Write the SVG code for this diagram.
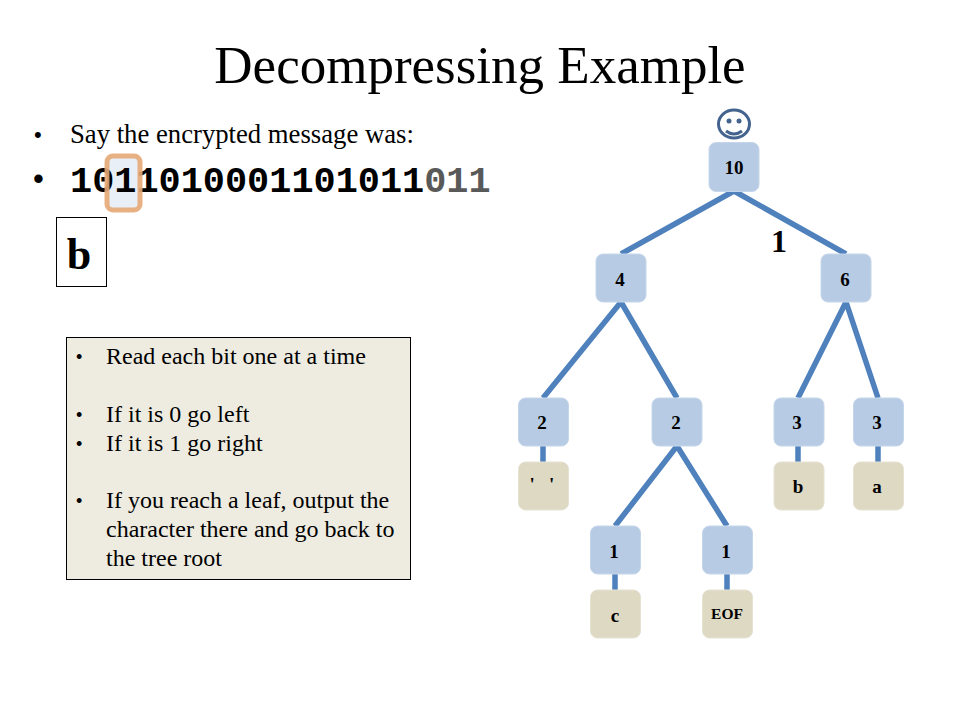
<svg xmlns="http://www.w3.org/2000/svg" width="960" height="720" viewBox="0 0 960 720">
<style>
text{font-family:"Liberation Serif","Times New Roman",serif;fill:#000}
.n{fill:#b7cce4;stroke:#c6d6ea;stroke-width:1}
.l{fill:#ddd9c3;stroke:#e6e3d3;stroke-width:1}
.t{font-size:19px;font-weight:bold;text-anchor:middle}
.c{stroke:#4f81bd;stroke-width:5.5;fill:none}
.b{font-size:24px}
.d{font-family:"Liberation Sans",Arial,sans-serif}
.m{font-family:"Liberation Mono","Courier New",monospace;font-size:36.900px;font-weight:bold}
</style>
<rect width="960" height="720" fill="#fff"/>
<text id="title" x="480" y="83" font-size="53" text-anchor="middle">Decompressing Example</text>
<g id="bullets">
<text x="34" y="142" class="d" font-size="22">•</text>
<text x="70" y="143" font-size="26.700">Say the encrypted message was:</text>
<text x="33" y="189" class="d" font-size="31">•</text>
</g>
<rect x="107" y="156" width="33" height="54" rx="6" fill="#e9eff7"/>
<g id="message">
<text x="70" y="192" class="m">1011010001101011<tspan fill="#595959">011</tspan></text>
</g>
<g id="highlight"><rect x="107" y="156" width="33" height="54" rx="6" fill="none" stroke="#e6a875" stroke-opacity=".9" stroke-width="5"/></g>
<g id="output"><rect x="56.500" y="217.500" width="50" height="69" fill="#fff" stroke="#000" stroke-width="1"/>
<text x="79" y="269" font-size="44" font-weight="bold" text-anchor="middle">b</text></g>
<g id="notes">
<rect x="66.500" y="337.500" width="344" height="242" fill="#eeece1" stroke="#000" stroke-width="1"/>
<text x="76" y="363" class="d" font-size="18">•</text><text x="106" y="364" class="b">Read each bit one at a time</text>
<text x="76" y="421" class="d" font-size="18">•</text><text x="106" y="422" class="b">If it is 0 go left</text>
<text x="76" y="450" class="d" font-size="18">•</text><text x="106" y="451" class="b">If it is 1 go right</text>
<text x="76" y="507" class="d" font-size="18">•</text><text x="106" y="508" class="b">If you reach a leaf, output the</text>
<text x="106" y="537" class="b">character there and go back to</text>
<text x="106" y="566" class="b">the tree root</text>
</g>
<g id="smiley" fill="none" stroke="#44648f" stroke-width="3">
<ellipse cx="734" cy="124" rx="15.500" ry="14"/>
<path d="M726 131Q734 137 742 131"/>
<circle cx="729" cy="121" r="2.500" fill="#44648f" stroke="none"/>
<circle cx="739" cy="121" r="2.500" fill="#44648f" stroke="none"/>
</g>
<text id="edge-label" x="779" y="252" font-size="32" font-weight="bold" text-anchor="middle">1</text>
<g id="connectors" class="c">
<path d="M734 191L621 254M734 191L846 254"/>
<path d="M621 302L543 398M621 302L677 398"/>
<path d="M846 302L798 398M846 302L878 398"/>
<path d="M543 446V462M798 446V462M878 446V462"/>
<path d="M677 446L615 526M677 446L727 526"/>
<path d="M615 574V590M727 574V590"/>
</g>
<g id="n10"><rect class="n" x="709" y="142.500" width="50" height="49" rx="7"/><text class="t" x="734" y="174">10</text></g>
<g id="n4"><rect class="n" x="596" y="254" width="50" height="48" rx="7"/><text class="t" x="620" y="286">4</text></g>
<g id="n6"><rect class="n" x="821" y="254" width="50" height="48" rx="7"/><text class="t" x="845" y="286">6</text></g>
<g id="n2a"><rect class="n" x="518.500" y="398" width="50" height="48" rx="7"/><text class="t" x="542" y="429">2</text></g>
<g id="n2b"><rect class="n" x="652" y="398" width="50" height="48" rx="7"/><text class="t" x="676" y="429">2</text></g>
<g id="n3a"><rect class="n" x="774" y="398" width="50" height="48" rx="7"/><text class="t" x="797" y="429">3</text></g>
<g id="n3b"><rect class="n" x="853.500" y="398" width="50" height="48" rx="7"/><text class="t" x="877" y="429">3</text></g>
<g id="leaf-space"><rect class="l" x="518.500" y="462" width="50" height="48" rx="7"/><text class="t" x="542" y="491" xml:space="preserve">'   '</text></g>
<g id="leaf-b"><rect class="l" x="774" y="462" width="50" height="48" rx="7"/><text class="t" x="798" y="493">b</text></g>
<g id="leaf-a"><rect class="l" x="853.500" y="462" width="50" height="48" rx="7"/><text class="t" x="877" y="493">a</text></g>
<g id="n1a"><rect class="n" x="590.500" y="526" width="50" height="48" rx="7"/><text class="t" x="614" y="558">1</text></g>
<g id="n1b"><rect class="n" x="702.500" y="526" width="50" height="48" rx="7"/><text class="t" x="726" y="558">1</text></g>
<g id="leaf-c"><rect class="l" x="590.500" y="590" width="50" height="48" rx="7"/><text class="t" x="615" y="622">c</text></g>
<g id="leaf-eof"><rect class="l" x="702.500" y="590" width="50" height="48" rx="7"/><text x="727" y="619" font-size="15.500" font-weight="bold" text-anchor="middle">EOF</text></g>
</svg>
